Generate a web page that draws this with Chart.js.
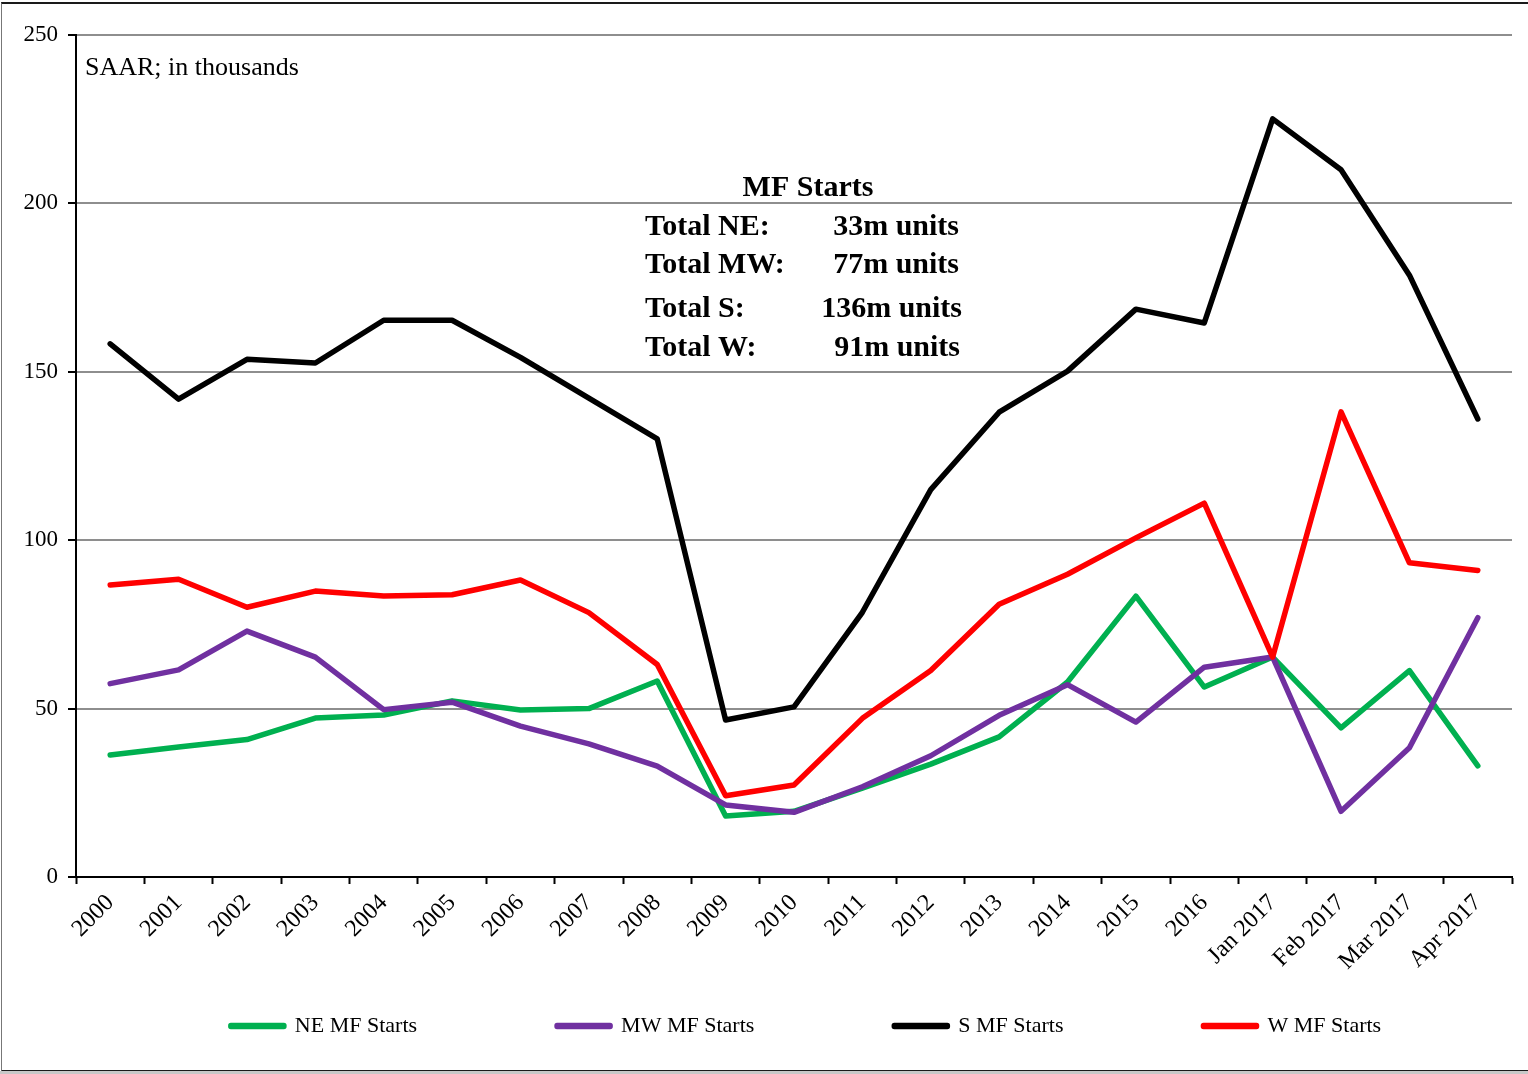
<!DOCTYPE html>
<html>
<head>
<meta charset="utf-8">
<script src="https://cdn.jsdelivr.net/npm/chart.js@4.4.1/dist/chart.umd.min.js"></script>
<style>
  body { margin: 0; background: #fff; }
  #wrap { position: relative; width: 1528px; height: 1074px; }
  #frame {
    position: absolute; left: 1px; top: 2px; width: 1527px; height: 1066px;
    border-top: 2px solid #1a1a1a; border-left: 1px solid #777; border-bottom: 2px solid #1a1a1a;
    pointer-events: none;
  }
  #under { position: absolute; left: 0; top: 1071px; width: 1528px; height: 3px; background: #c8c8c8; }
</style>
</head>
<body>
<div id="wrap">
  <canvas id="chart" width="1528" height="1074"></canvas>
  <div id="frame"></div>
  <div id="under"></div>
</div>
<script>
// categories
const periods = ["2000", "2001", "2002", "2003", "2004", "2005", "2006", "2007", "2008",
    "2009", "2010", "2011", "2012", "2013", "2014", "2015", "2016",
    "Jan 2017", "Feb 2017", "Mar 2017", "Apr 2017"];

// series values (SAAR, thousands)
const neStarts = [36.2, 38.6, 40.8, 47.2, 48.1, 52.3, 49.6, 50.0, 58.2, 18.1, 19.5, 26.4, 33.5, 41.6, 57.9, 83.4, 56.4, 65.3, 44.3, 61.3, 33];
const mwStarts = [57.4, 61.5, 73.0, 65.3, 49.7, 51.9, 44.8, 39.5, 32.9, 21.4, 19.2, 26.8, 36.0, 48.0, 57.1, 46.0, 62.3, 65.3, 19.5, 38.4, 77];
const sStarts = [158.3, 141.9, 153.7, 152.6, 165.3, 165.3, 154.3, 142.2, 130.1, 46.6, 50.5, 78.6, 115.0, 138.0, 150.2, 168.6, 164.5, 225.1, 210.0, 178.7, 136];
const wStarts = [86.7, 88.4, 80.1, 84.9, 83.4, 83.8, 88.2, 78.5, 63.1, 24.1, 27.3, 47.1, 61.3, 81.0, 89.9, 100.7, 111.0, 65.3, 138.1, 93.3, 91];

const seriesNames = ["NE MF Starts", "MW MF Starts", "S MF Starts", "W MF Starts"];

// y axis ticks
const yMin = 0;
const yMax = 250;
const yStep = 50;

// text in the plot
const unitNote = "SAAR; in thousands";
const boxTitle = "MF Starts";
const totalLabels = ["Total NE:", "Total MW:", "Total S:", "Total W:"];
const totalValues = ["33m units", "77m units", "136m units", "91m units"];

const serif = '"Liberation Serif", "Times New Roman", serif';

// draws the note and the totals box
const notesPlugin = {
    id: "notes",
    afterDatasetsDraw(chart) {
        const ctx = chart.ctx;
        ctx.save();
        ctx.fillStyle = "#000";
        ctx.font = "26px " + serif;
        ctx.textAlign = "left";
        ctx.textBaseline = "alphabetic";
        ctx.fillText(unitNote, 85, 75);

        ctx.font = "bold 30px " + serif;
        ctx.textAlign = "center";
        ctx.fillText(boxTitle, 808, 196);

        const baselines = [235, 273, 317, 356];
        const rightEdge = [959, 959, 962, 960];
        totalLabels.forEach((label, i) => {
            ctx.textAlign = "left";
            ctx.fillText(label, 645, baselines[i]);
            ctx.textAlign = "right";
            ctx.fillText(totalValues[i], rightEdge[i], baselines[i]);
        });
        ctx.restore();
    }
};

// moves the legend row up into place and centres it under the plot
const legendPlacePlugin = {
    id: "legendPlace",
    afterLayout(chart) {
        const lg = chart.legend;
        if (!lg) return;
        const pad = lg.options.labels.padding;
        const dy = 1015 - (lg.top + pad);
        lg.top += dy;
        lg.bottom = chart.height; // keep the row inside the legend's clip box
        lg.height = lg.bottom - lg.top;
        const dx = 806 - (lg.left + lg.right) / 2;
        lg.left += dx;
        lg.right += dx;
    }
};

function makeSet(label, data, color, order) {
    return {
        label: label,
        data: data,
        borderColor: color,
        backgroundColor: color,
        borderWidth: 5.5,
        pointRadius: 0,
        pointHoverRadius: 0,
        tension: 0,
        fill: false,
        borderCapStyle: "round",
        borderJoinStyle: "round",
        order: order
    };
}

new Chart(document.getElementById("chart"), {
    type: "line",
    data: {
        labels: periods,
        datasets: [
            makeSet(seriesNames[0], neStarts, "#00b050", 4),
            makeSet(seriesNames[1], mwStarts, "#7030a0", 3),
            makeSet(seriesNames[2], sStarts, "#000000", 2),
            makeSet(seriesNames[3], wStarts, "#ff0000", 1)
        ]
    },
    options: {
        responsive: false,
        animation: false,
        layout: { padding: { left: 0, top: 35, right: 16, bottom: 0 } },
        plugins: {
            tooltip: { enabled: false },
            legend: {
                position: "bottom",
                maxHeight: 40,
                labels: {
                    boxWidth: 53,
                    boxHeight: 1,
                    padding: 140,
                    color: "#000",
                    font: { family: serif, size: 22 },
                    sort: (a, b) => a.datasetIndex - b.datasetIndex
                }
            }
        },
        scales: {
            x: {
                offset: true,
                grid: {
                    offset: true,
                    drawOnChartArea: false,
                    drawTicks: true,
                    tickLength: 7,
                    tickColor: "#000",
                    tickWidth: 2
                },
                border: { color: "#000", width: 2 },
                ticks: {
                    color: "#000",
                    font: { family: serif, size: 24 },
                    maxRotation: 45,
                    minRotation: 45,
                    autoSkip: false,
                    padding: 5
                },
                afterFit: (s) => { s.height = 157; }
            },
            y: {
                min: yMin,
                max: yMax,
                grid: {
                    color: "#8e8e8e",
                    lineWidth: 2,
                    tickLength: 8,
                    tickColor: "#000",
                    tickWidth: 2
                },
                border: { color: "#000", width: 2 },
                ticks: {
                    stepSize: yStep,
                    color: "#000",
                    font: { family: serif, size: 23 },
                    padding: 10
                },
                afterFit: (s) => { s.width = 76; }
            }
        }
    },
    plugins: [notesPlugin, legendPlacePlugin]
});
</script>
</body>
</html>
